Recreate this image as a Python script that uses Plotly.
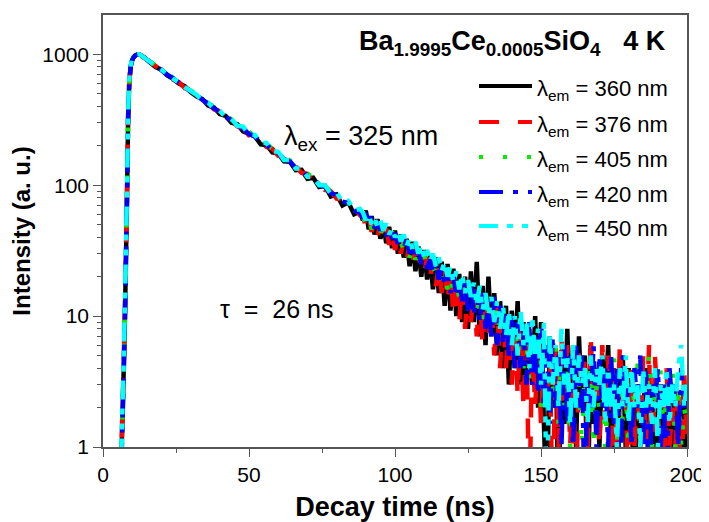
import plotly.graph_objects as go

# time channels (ns)
t_rise = [6.0, 6.5, 7.0, 7.5, 8.0, 8.3, 8.6, 9.0, 9.5, 10.0, 10.5, 11.0, 11.5, 12.0, 12.5, 13.0]
t_mid = [14, 16, 18, 20, 22, 24, 26, 28, 30, 32, 34, 36, 38, 40, 42, 44, 46, 48, 50, 52,
         54, 56, 58, 60, 62, 64, 66, 68, 70, 72, 74, 76, 78, 80, 82, 84, 86, 88]
t_tail = [89, 90, 91, 92, 93, 94, 95, 96, 97, 98, 99, 100,
          101, 102, 103, 104, 105, 106, 107, 108, 109, 110, 111, 112,
          113, 114, 115, 116, 117, 118, 119, 120, 121, 122, 123, 124,
          125, 126, 127, 128, 129, 130, 131, 132, 133, 134, 135, 136,
          137, 138, 139, 140, 141, 142, 143, 144, 145, 146, 147, 148,
          149, 150, 151, 152, 153, 154, 155, 156, 157, 158, 159, 160,
          161, 162, 163, 164, 165, 166, 167, 168, 169, 170, 171, 172,
          173, 174, 175, 176, 177, 178, 179, 180, 181, 182, 183, 184,
          185, 186, 187, 188, 189, 190, 191, 192, 193, 194, 195, 196,
          197, 198, 199, 200]
t = t_rise + t_mid + t_tail

# 360 nm
i360 = ([0.3, 1.2, 3.2, 9.5, 42, 105, 320, 610, 815, 905, 950, 978, 992, 1000, 996, 982] +
        [952, 870, 800, 762, 690, 648, 598, 570, 515, 478, 455, 405, 392, 350, 338, 300, 292, 258, 246, 236,
         205, 203, 178, 175, 152, 151, 130, 131, 112, 114, 97, 99, 82, 85, 70, 74, 60, 63] +
        [54, 64, 46, 58, 42, 55, 39, 51, 36, 48, 33, 45,
         30, 42, 28, 39, 24, 37, 22, 34, 20, 32, 19, 29,
         16, 28, 15, 26, 12, 25, 11, 23, 10, 21, 9, 20,
         8, 22, 9, 26, 7, 17, 6, 20, 7, 15, 5, 13,
         4, 12, 3, 11, 4, 13, 3, 9, 2.5, 8, 3, 10,
         2, 9, 1.5, 0.3, 7, 2, 6, 0.3, 5, 1.5, 8, 1.5,
         6, 1, 7, 2, 5, 0.3, 6, 1.5, 4, 1, 5, 2,
         6, 1, 4, 0.3, 3, 5, 1, 4, 2, 0.3, 3, 1,
         2, 4, 1, 3, 0.3, 2, 3, 1, 2, 0.3, 3, 1,
         2, 1, 3, 0.3])
# 376 nm
i376 = ([0.3, 1.4, 3.6, 11, 48, 115, 340, 630, 825, 910, 955, 975, 990, 996, 990, 978] +
        [940, 882, 812, 750, 708, 640, 612, 552, 528, 480, 445, 422, 380, 366, 328, 315, 282, 272, 240, 236,
         210, 196, 190, 168, 164, 144, 140, 124, 122, 106, 104, 92, 90, 79, 78, 68, 67, 59] +
        [60, 47, 56, 44, 54, 41, 50, 38, 47, 35, 44, 32,
         41, 30, 38, 27, 36, 25, 33, 23, 31, 21, 28, 19,
         27, 17, 25, 15, 23, 13, 22, 10, 20, 9, 18, 8,
         17, 9, 16, 7, 15, 6, 14, 7, 13, 5, 12, 4,
         11, 4, 10, 3, 9, 2.5, 9, 2, 8, 0.3, 7, 2,
         6, 1.5, 7, 2, 5, 0.3, 6, 1, 7, 2, 6, 1,
         5, 0.3, 6, 2, 5, 1, 7, 2, 4, 1, 6, 1.5,
         5, 0.3, 4, 1, 6, 2, 3, 0.3, 4, 1, 3, 1,
         5, 1, 6, 0.3, 5, 2, 3, 0.3, 4, 1, 2, 1,
         3, 0.3, 4, 1])
# 405 nm
i405 = ([0.3, 1.3, 3.4, 10, 44, 108, 330, 620, 820, 912, 958, 982, 995, 1000, 994, 985] +
        [955, 885, 822, 765, 712, 660, 615, 572, 530, 492, 458, 426, 395, 368, 340, 318, 294, 276, 254, 238,
         220, 206, 190, 178, 164, 154, 142, 132, 122, 114, 106, 98, 90, 85, 78, 73, 68, 63] +
        [57, 52, 59, 46, 52, 50, 43, 49, 42, 40, 44, 36,
         38, 36, 33, 36, 28, 34, 27, 30, 26, 29, 23, 25,
         24, 21, 23, 19, 22, 16, 20, 15, 17, 14, 18, 12,
         15, 13, 14, 10, 15, 9, 13, 10, 11, 8, 12, 7,
         10, 6, 9, 7, 8, 5, 9, 4, 7, 3, 8, 4,
         6, 2, 7, 3, 5, 2.5, 6, 1.5, 5, 2, 4, 1,
         5, 2, 3, 1, 4, 2, 5, 1, 3, 2, 4, 1,
         3, 2, 5, 1, 4, 1.5, 3, 1, 4, 2, 5, 1,
         3, 2, 5, 1, 3, 2, 4, 1, 3, 2, 4, 1,
         3, 1, 2, 1.5])
# 420 nm
i420 = ([0.3, 1.1, 3.0, 9, 40, 100, 310, 600, 810, 900, 948, 975, 990, 998, 995, 983] +
        [948, 876, 818, 756, 700, 656, 604, 566, 520, 488, 450, 420, 386, 364, 332, 314, 286, 272, 246, 236,
         212, 204, 184, 176, 158, 152, 136, 131, 117, 113, 101, 97, 87, 84, 75, 73, 64, 62] +
        [56, 61, 50, 58, 47, 52, 45, 50, 41, 47, 39, 43,
         35, 41, 33, 38, 30, 35, 27, 33, 25, 31, 23, 27,
         21, 26, 19, 24, 17, 23, 15, 21, 14, 19, 13, 18,
         11, 18, 10, 16, 9, 15, 8, 13, 7, 14, 6, 12,
         6, 11, 5, 10, 4, 9, 4, 8, 3, 9, 3, 7,
         2.5, 8, 2, 6, 1.5, 7, 2, 5, 1, 6, 1.5, 5,
         1, 6, 2, 5, 0.3, 4, 2, 6, 1, 5, 2, 4,
         1, 5, 1.5, 4, 0.3, 5, 2, 3, 1, 4, 2, 5,
         1, 4, 0.3, 3, 2, 4, 1, 3, 0.3, 4, 2, 3,
         1, 4, 2, 3])
# 450 nm
i450 = ([0.3, 1.5, 3.8, 12, 50, 120, 350, 640, 830, 915, 960, 985, 998, 1002, 997, 986] +
        [944, 880, 814, 762, 706, 650, 610, 560, 526, 490, 448, 428, 384, 370, 330, 320, 284, 280, 244, 242,
         210, 210, 182, 180, 156, 156, 134, 134, 116, 116, 100, 100, 86, 88, 74, 76, 64, 66] +
        [62, 54, 60, 50, 56, 48, 54, 45, 51, 42, 47, 40,
         45, 37, 42, 34, 40, 32, 37, 30, 35, 28, 32, 26,
         30, 24, 28, 22, 26, 20, 24, 18, 22, 16, 21, 15,
         19, 14, 18, 12, 17, 11, 15, 10, 14, 9, 13, 8,
         12, 7, 11, 6, 10, 5, 11, 6, 9, 4, 10, 5,
         8, 3, 9, 0.3, 7, 3, 6, 2, 8, 3, 5, 1.5,
         6, 2, 5, 3, 4, 1.5, 5, 2, 4, 3, 5, 1.5,
         4, 2, 3, 1, 4, 2, 5, 1.5, 4, 2, 3, 1,
         4, 2, 3, 1.5, 4, 1, 3, 2, 4, 1.5, 3, 2,
         4, 6, 2, 3])

series = [("360", i360), ("376", i376), ("405", i405), ("420", i420), ("450", i450)]
colors = ["#000000", "#ff0000", "#00ee00", "#0000ff", "#00ffff"]
dashes = ["solid", "20px,19px", "4px,20px", "24px,10px,5px,10px", "19px,9px,6px,9px,6px,9px"]

y_ticks = [1, 10, 100, 1000]
y_ticktext = ["1", "10", "100", "1000"]

FONT = "Liberation Sans, Arial, sans-serif"

fig = go.Figure()
for (name, vals), c, d in zip(series, colors, dashes):
    assert len(vals) == len(t)
    fig.add_trace(go.Scatter(x=t, y=vals, mode="lines", name=name,
                             line=dict(color=c, width=4.5, dash=d, simplify=False),
                             showlegend=False))

# hand-made legend (longer samples than plotly's own legend)
row_y = [86, 122, 157, 192, 226]
ann = []
shapes = []
for (name, vals), c, d, py in zip(series, colors, dashes, row_y):
    yp = 1 - (py - 15) / 432
    shapes.append(dict(type="line", xref="paper", yref="paper",
                       x0=(479 - 103) / 584, x1=(532 - 103) / 584, y0=yp, y1=yp,
                       line=dict(color=c, width=4, dash=d)))
    ann.append(dict(xref="paper", yref="paper", x=(535 - 103) / 584, y=yp - 0.01,
                    xanchor="left", yanchor="middle", showarrow=False,
                    text="λ<sub>em</sub> = " + name + " nm",
                    font=dict(family=FONT, size=22, color="black")))

ann.append(dict(xref="paper", yref="paper", x=0.967, y=0.935, xanchor="right", yanchor="middle",
                showarrow=False,
                text="<b>Ba<sub>1.9995</sub>Ce<sub>0.0005</sub>SiO<sub>4</sub>   4 K</b>",
                font=dict(family=FONT, size=27, color="black")))
ann.append(dict(xref="paper", yref="paper", x=0.307, y=0.715, xanchor="left", yanchor="middle",
                showarrow=False, text="λ<sub>ex</sub> = 325 nm",
                font=dict(family=FONT, size=27, color="black")))
ann.append(dict(xref="paper", yref="paper", x=0.197, y=0.32, xanchor="left", yanchor="middle",
                showarrow=False, text="τ  =  26 ns",
                font=dict(family=FONT, size=25, color="black")))

axis_common = dict(showline=True, linecolor="#555555", linewidth=1.5, mirror=True,
                   ticks="outside", ticklen=8, tickwidth=1.2, tickcolor="#555555",
                   showgrid=False, zeroline=False, automargin=False,
                   tickfont=dict(family=FONT, size=21, color="black"))

# the page adds an 8 px body margin, so the figure is 8 px smaller and margins shifted
fig.update_layout(
    width=701, height=514,
    margin=dict(l=95, r=22, t=7, b=75),
    paper_bgcolor="white", plot_bgcolor="white",
    annotations=ann, shapes=shapes,
    xaxis=dict(range=[0, 200], dtick=50, tick0=0,
               minor=dict(ticks="outside", ticklen=4, dtick=25, tickcolor="#555555", showgrid=False),
               title=dict(text="<b>Decay time (ns)</b>", font=dict(family=FONT, size=27, color="black")),
               **axis_common),
    yaxis=dict(type="log", range=[0, 3.3], tickvals=y_ticks, ticktext=y_ticktext,
               minor=dict(ticks="outside", ticklen=4, dtick="D1", tickcolor="#555555", showgrid=False),
               title=dict(text="<b>Intensity (a. u.)</b>", font=dict(family=FONT, size=24, color="black")),
               **axis_common),
)

fig.write_html("out.html")
